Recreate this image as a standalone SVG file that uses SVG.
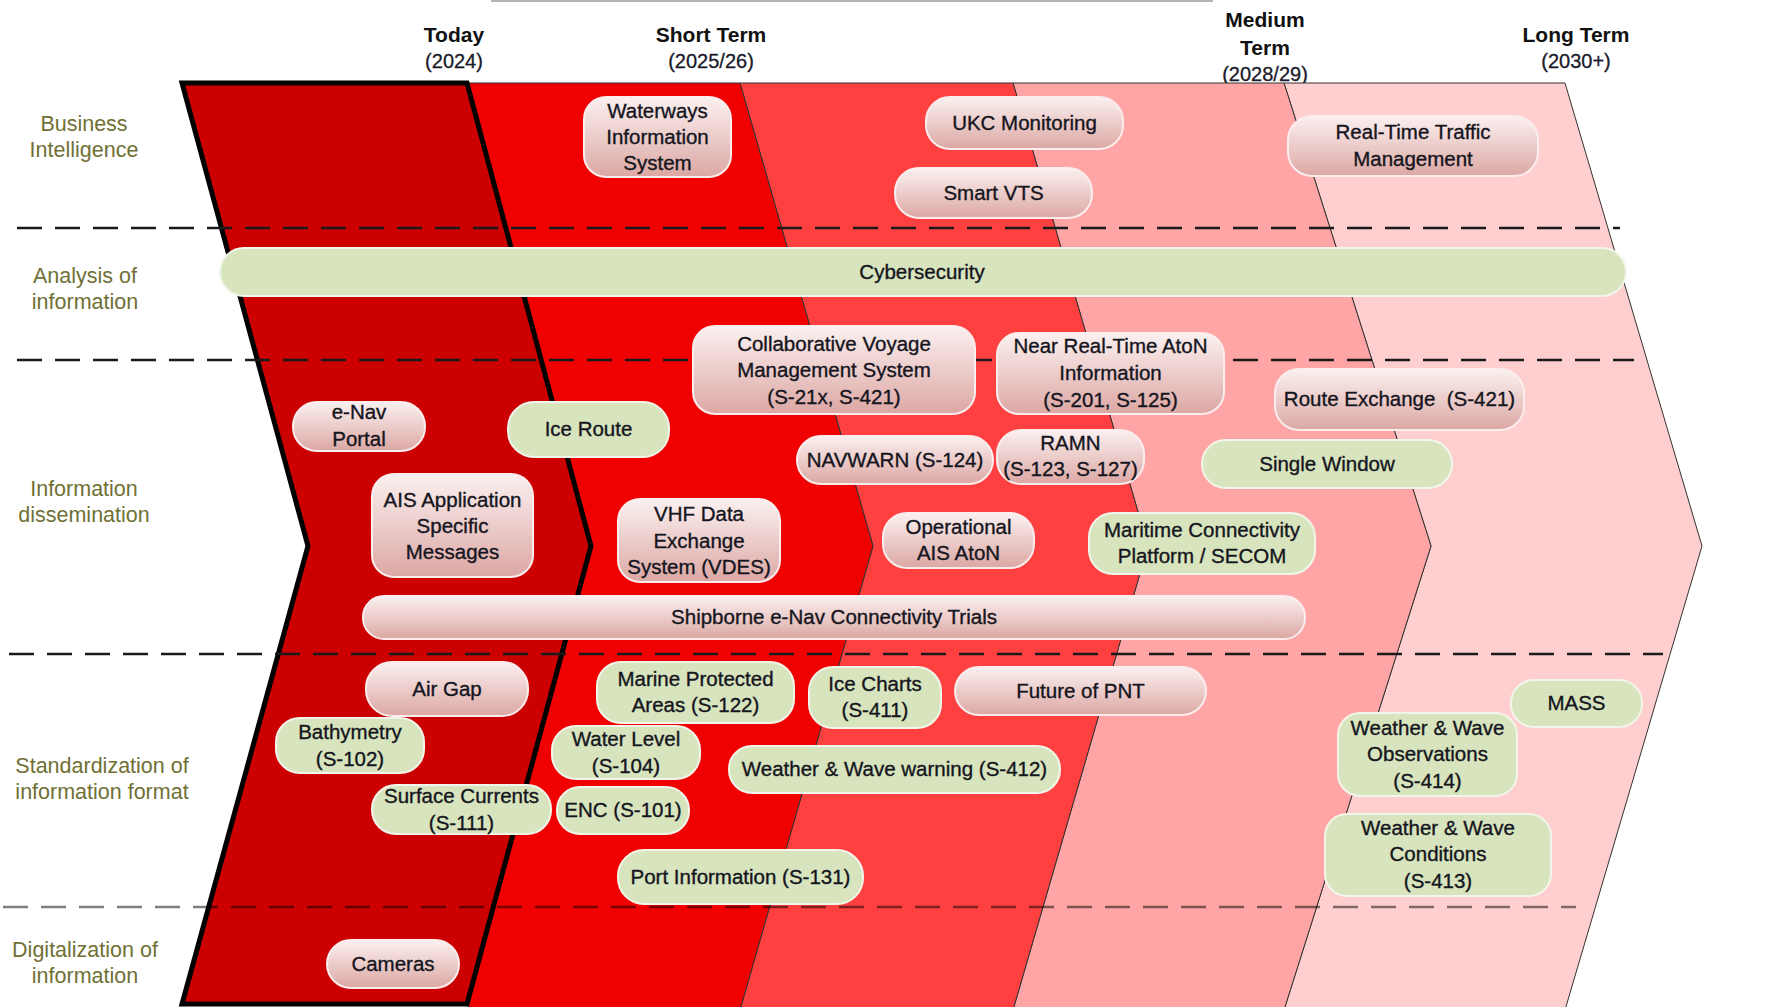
<svg xmlns="http://www.w3.org/2000/svg" width="1790" height="1007" viewBox="0 0 1790 1007">
<style>
.pk{fill:url(#pg);stroke:#FBEDED;stroke-width:2}
.gr{fill:#D7E4BD;stroke:#F2F6EA;stroke-width:2}
.t{font-family:"Liberation Sans",Arial,sans-serif;font-size:20.5px;fill:#151520;stroke:#151520;stroke-width:0.35;text-anchor:middle}
.hd{font-family:"Liberation Sans",Arial,sans-serif;font-size:21px;font-weight:bold;fill:#111;text-anchor:middle}
.yr{font-family:"Liberation Sans",Arial,sans-serif;font-size:20px;fill:#1a1a2a;stroke:#1a1a2a;stroke-width:0.3;text-anchor:middle}
.lb{font-family:"Liberation Sans",Arial,sans-serif;font-size:21.5px;fill:#707035;text-anchor:middle}
.band{stroke:#333;stroke-width:1}
.dash{stroke:#1a1a1a;stroke-width:2.5;stroke-dasharray:25 13;fill:none}
</style>
<defs>
<linearGradient id="pg" x1="0" y1="0" x2="0" y2="1">
<stop offset="0" stop-color="#FBF0F0"/>
<stop offset="0.45" stop-color="#EDD0CE"/>
<stop offset="1" stop-color="#DCA7A3"/>
</linearGradient>
</defs>
<rect width="1790" height="1007" fill="#fff"/>
<line x1="491" y1="1" x2="1213" y2="1" stroke="#999" stroke-width="1.5"/>
<g id="headers">
<text class="hd" x="454" y="42">Today</text>
<text class="yr" x="454" y="68">(2024)</text>
<text class="hd" x="711" y="42">Short Term</text>
<text class="yr" x="711" y="68">(2025/26)</text>
<text class="hd" x="1265" y="27">Medium</text>
<text class="hd" x="1265" y="55">Term</text>
<text class="yr" x="1265" y="81">(2028/29)</text>
<text class="hd" x="1576" y="42">Long Term</text>
<text class="yr" x="1576" y="68">(2030+)</text>
</g>
<g id="bands">
<polygon class="band" fill="#FFCFCF" points="1284,83 1565,83 1702,546 1565,1010 1284,1010 1431,546"/>
<polygon class="band" fill="#FFA5A5" points="1013,83 1284,83 1431,546 1284,1010 1013,1010 1148,546"/>
<polygon class="band" fill="#FF4040" points="740,83 1013,83 1148,546 1013,1010 740,1010 873,546"/>
<polygon class="band" fill="#F00000" points="467,83 740,83 873,546 740,1010 467,1010 591,546"/>
<polygon fill="#CC0000" stroke="#000" stroke-width="5" stroke-linejoin="miter" points="182,83 467,83 591,546 467,1004 182,1004 308,546"/>
</g>
<g id="rows">
<line class="dash" x1="17" y1="228" x2="1620" y2="228"/>
<line class="dash" x1="17" y1="360" x2="1634" y2="360"/>
<line class="dash" x1="9" y1="654" x2="1663" y2="654"/>
<line class="dash" x1="3" y1="907" x2="1576" y2="907" style="stroke:#000;stroke-opacity:0.5"/>
<text class="lb" x="84" y="131">Business</text>
<text class="lb" x="84" y="157">Intelligence</text>
<text class="lb" x="85" y="283">Analysis of</text>
<text class="lb" x="85" y="309">information</text>
<text class="lb" x="84" y="496">Information</text>
<text class="lb" x="84" y="522">dissemination</text>
<text class="lb" x="102" y="773">Standardization of</text>
<text class="lb" x="102" y="799">information format</text>
<text class="lb" x="85" y="957">Digitalization of</text>
<text class="lb" x="85" y="983">information</text>
</g>
<g id="connectors"></g>
<g id="n-waterways"><rect class="pk" x="584" y="97" width="147" height="80" rx="22"/><text class="t" x="657.5" y="118">Waterways</text><text class="t" x="657.5" y="144">Information</text><text class="t" x="657.5" y="170">System</text></g>
<g id="n-ukc"><rect class="pk" x="926" y="97" width="197" height="52" rx="24"/><text class="t" x="1024.5" y="130">UKC Monitoring</text></g>
<g id="n-smartvts"><rect class="pk" x="895" y="168" width="197" height="50" rx="24"/><text class="t" x="993.5" y="200">Smart VTS</text></g>
<g id="n-rttm"><rect class="pk" x="1288" y="116" width="250" height="60" rx="24"/><text class="t" x="1413" y="139">Real-Time Traffic</text><text class="t" x="1413" y="166">Management</text></g>
<g id="n-cyber"><rect class="gr" x="220" y="248" width="1406" height="48" rx="24"/><text class="t" x="922" y="279">Cybersecurity</text></g>
<g id="n-collab"><rect class="pk" x="693" y="326" width="282" height="88" rx="22"/><text class="t" x="834" y="351">Collaborative Voyage</text><text class="t" x="834" y="377">Management System</text><text class="t" x="834" y="404">(S-21x, S-421)</text></g>
<g id="n-nearrt"><rect class="pk" x="997" y="333" width="227" height="81" rx="22"/><text class="t" x="1110.5" y="353">Near Real-Time AtoN</text><text class="t" x="1110.5" y="380">Information</text><text class="t" x="1110.5" y="407">(S-201, S-125)</text></g>
<g id="n-route"><rect class="pk" x="1275" y="369" width="249" height="61" rx="24"/><text class="t" x="1399.5" y="406" xml:space="preserve">Route Exchange  (S-421)</text></g>
<g id="n-enav"><rect class="pk" x="293" y="402" width="132" height="49" rx="24"/><text class="t" x="359" y="419">e-Nav</text><text class="t" x="359" y="446">Portal</text></g>
<g id="n-iceroute"><rect class="gr" x="508" y="402" width="161" height="55" rx="26"/><text class="t" x="588.5" y="436">Ice Route</text></g>
<g id="n-navwarn"><rect class="pk" x="797" y="436" width="196" height="48" rx="24"/><text class="t" x="895" y="467">NAVWARN (S-124)</text></g>
<g id="n-ramn"><rect class="pk" x="997" y="430" width="147" height="54" rx="24"/><text class="t" x="1070.5" y="450">RAMN</text><text class="t" x="1070.5" y="476">(S-123, S-127)</text></g>
<g id="n-single"><rect class="gr" x="1202" y="440" width="250" height="48" rx="24"/><text class="t" x="1327" y="471">Single Window</text></g>
<g id="n-ais"><rect class="pk" x="372" y="474" width="161" height="103" rx="22"/><text class="t" x="452.5" y="507">AIS Application</text><text class="t" x="452.5" y="533">Specific</text><text class="t" x="452.5" y="559">Messages</text></g>
<g id="n-vdes"><rect class="pk" x="618" y="499" width="162" height="83" rx="22"/><text class="t" x="699" y="521">VHF Data</text><text class="t" x="699" y="548">Exchange</text><text class="t" x="699" y="574">System (VDES)</text></g>
<g id="n-opais"><rect class="pk" x="883" y="513" width="151" height="55" rx="24"/><text class="t" x="958.5" y="534">Operational</text><text class="t" x="958.5" y="560">AIS AtoN</text></g>
<g id="n-mcp"><rect class="gr" x="1089" y="513" width="226" height="61" rx="24"/><text class="t" x="1202" y="537">Maritime Connectivity</text><text class="t" x="1202" y="563">Platform / SECOM</text></g>
<g id="n-shipborne"><rect class="pk" x="363" y="596" width="942" height="43" rx="21"/><text class="t" x="834" y="624">Shipborne e-Nav Connectivity Trials</text></g>
<g id="n-airgap"><rect class="pk" x="366" y="662" width="162" height="54" rx="26"/><text class="t" x="447" y="696">Air Gap</text></g>
<g id="n-bathy"><rect class="gr" x="276" y="718" width="148" height="55" rx="24"/><text class="t" x="350" y="739">Bathymetry</text><text class="t" x="350" y="766">(S-102)</text></g>
<g id="n-surface"><rect class="gr" x="372" y="785" width="179" height="49" rx="24"/><text class="t" x="461.5" y="803">Surface Currents</text><text class="t" x="461.5" y="830">(S-111)</text></g>
<g id="n-mpa"><rect class="gr" x="597" y="662" width="197" height="61" rx="24"/><text class="t" x="695.5" y="686">Marine Protected</text><text class="t" x="695.5" y="712">Areas (S-122)</text></g>
<g id="n-water"><rect class="gr" x="552" y="726" width="148" height="53" rx="24"/><text class="t" x="626" y="746">Water Level</text><text class="t" x="626" y="773">(S-104)</text></g>
<g id="n-enc"><rect class="gr" x="557" y="787" width="132" height="47" rx="23"/><text class="t" x="623" y="817">ENC (S-101)</text></g>
<g id="n-port"><rect class="gr" x="618" y="850" width="245" height="54" rx="26"/><text class="t" x="740.5" y="884">Port Information (S-131)</text></g>
<g id="n-icecharts"><rect class="gr" x="809" y="667" width="132" height="61" rx="24"/><text class="t" x="875" y="691">Ice Charts</text><text class="t" x="875" y="717">(S-411)</text></g>
<g id="n-pnt"><rect class="pk" x="955" y="667" width="251" height="48" rx="24"/><text class="t" x="1080.5" y="698">Future of PNT</text></g>
<g id="n-wwwarn"><rect class="gr" x="729" y="746" width="331" height="47" rx="23"/><text class="t" x="894.5" y="776">Weather &amp; Wave warning (S-412)</text></g>
<g id="n-mass"><rect class="gr" x="1511" y="680" width="131" height="47" rx="23"/><text class="t" x="1576.5" y="710">MASS</text></g>
<g id="n-wwobs"><rect class="gr" x="1338" y="713" width="179" height="83" rx="22"/><text class="t" x="1427.5" y="735">Weather &amp; Wave</text><text class="t" x="1427.5" y="761">Observations</text><text class="t" x="1427.5" y="788">(S-414)</text></g>
<g id="n-wwcond"><rect class="gr" x="1325" y="814" width="226" height="82" rx="22"/><text class="t" x="1438" y="835">Weather &amp; Wave</text><text class="t" x="1438" y="861">Conditions</text><text class="t" x="1438" y="888">(S-413)</text></g>
<g id="n-cameras"><rect class="pk" x="327" y="940" width="132" height="48" rx="24"/><text class="t" x="393" y="971">Cameras</text></g>
</svg>
